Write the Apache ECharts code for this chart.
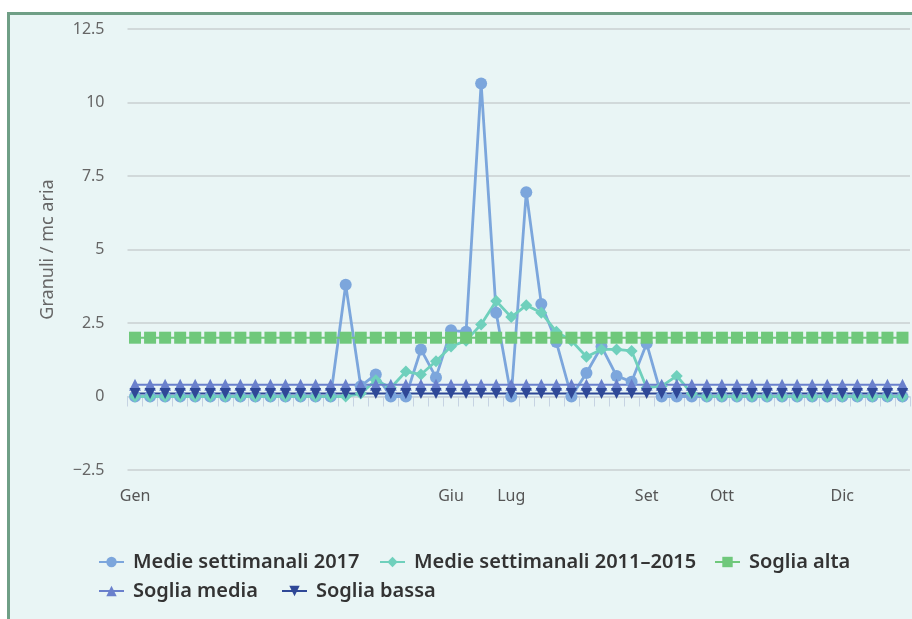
<!DOCTYPE html>
<html>
<head>
<meta charset="utf-8">
<script src="https://cdn.jsdelivr.net/npm/echarts@6/dist/echarts.min.js"></script>
<style>
  html, body { margin: 0; padding: 0; background: #ffffff; }
  #frame {
    position: absolute; left: 7px; top: 12px; width: 920px; height: 620px;
    border-left: 3px solid #6f9f86; border-top: 3px solid #6f9f86;
    background: #e9f5f5;
  }
  #chart { position: absolute; left: 0; top: 0; width: 912px; height: 619px; }
</style>
</head>
<body>
<div id="frame"></div>
<div id="chart"></div>
<script>
// Settimane dell'anno (52) e etichette dei mesi sull'asse X
const weeks = Array.from({ length: 52 }, (_, i) => String(i + 1));
const monthLabels = {
  0: 'Gen', 21: 'Giu', 25: 'Lug', 34: 'Set', 39: 'Ott', 47: 'Dic'
};
const yTicks = [-2.5, 0, 2.5, 5, 7.5, 10, 12.5];

// Medie settimanali 2017 (granuli / mc aria)
const medie2017 = [
  0, 0, 0, 0, 0, 0, 0, 0, 0, 0, 0, 0, 0, 0,
  3.8, 0.35, 0.75, 0, 0, 1.6, 0.65, 2.25, 2.2, 10.65,
  2.85, 0, 6.95, 3.15, 1.85, 0, 0.8, 1.7, 0.7, 0.5,
  1.8, 0, 0,
  0, 0, 0, 0, 0, 0, 0, 0, 0, 0, 0, 0, 0, 0, 0
];

// Medie settimanali 2011–2015
const medie2011_2015 = [
  0, 0, 0, 0, 0, 0, 0, 0, 0, 0, 0, 0, 0, 0,
  0, 0.1, 0.55, 0.3, 0.85, 0.75, 1.2, 1.7, 1.9, 2.45,
  3.25, 2.7, 3.1, 2.85, 2.2, 1.9, 1.35, 1.6, 1.6, 1.55,
  0.3, 0.35, 0.7,
  0.1, 0, 0, 0, 0, 0, 0, 0, 0, 0, 0, 0, 0, 0, 0
];

// Soglie di concentrazione
const sogliaAlta = weeks.map(() => 2);
const sogliaMedia = weeks.map(() => 0.4);
const sogliaBassa = weeks.map(() => 0.1);

const seriesNames = [
  'Medie settimanali 2017',
  'Medie settimanali 2011\u20132015',
  'Soglia alta',
  'Soglia media',
  'Soglia bassa'
];

const FONT = '"Noto Sans", sans-serif';

const chart = echarts.init(document.getElementById('chart'), null, { renderer: 'canvas' });

function lineSeries(name, data, color, symbol, size, width) {
  return {
    name, type: 'line', data,
    symbol, symbolSize: size, showSymbol: true,
    lineStyle: { color, width },
    itemStyle: { color },
    emphasis: { disabled: true },
    animation: false
  };
}

const legendText = { fontFamily: FONT, fontSize: 20, fontWeight: 600, color: '#333333', padding: [0, 0, 0, 4] };

// Una voce di legenda per componente, su due righe
const legendSlots = [
  { left: 93, top: 547 },
  { left: 374, top: 547 },
  { left: 709, top: 547 },
  { left: 93, top: 576 },
  { left: 276, top: 576 }
];

chart.setOption({
  backgroundColor: 'transparent',
  textStyle: { fontFamily: FONT },
  grid: { left: 127.5, right: 2, top: 29, bottom: 149, containLabel: false },
  xAxis: {
    type: 'category',
    data: weeks,
    boundaryGap: true,
    axisLine: { lineStyle: { color: '#c6d3e2', width: 1 } },
    axisTick: { show: true, interval: 0, length: 10, lineStyle: { color: '#c6d3e2' } },
    axisLabel: {
      interval: 0, margin: 18,
      color: '#555555', fontSize: 16, fontFamily: FONT,
      formatter: (v, i) => monthLabels[i] || ''
    },
    splitLine: { show: false }
  },
  yAxis: {
    type: 'value',
    min: yTicks[0], max: yTicks[yTicks.length - 1], interval: 2.5,
    name: 'Granuli / mc aria',
    nameLocation: 'middle', nameGap: 71,
    nameTextStyle: { color: '#666666', fontSize: 18, fontFamily: FONT },
    axisLine: { show: false },
    axisTick: { show: false },
    axisLabel: {
      margin: 23, color: '#666666', fontSize: 16, fontFamily: FONT,
      formatter: v => String(v).replace('-', '\u2212')
    },
    splitLine: { lineStyle: { color: '#c9cfd1', width: 1.5 } }
  },
  legend: seriesNames.map((n, i) => ({
    data: [n],
    left: legendSlots[i].left, top: legendSlots[i].top,
    itemWidth: 25, itemHeight: 13,
    textStyle: legendText
  })),
  series: [
    lineSeries(seriesNames[0], medie2017, '#7ca6dc', 'circle', 12, 2.8),
    lineSeries(seriesNames[1], medie2011_2015, '#6fd0bc', 'diamond', 12, 2.8),
    lineSeries(seriesNames[2], sogliaAlta, '#6fc87b', 'rect', 12, 2),
    lineSeries(seriesNames[3], sogliaMedia, '#6a80cc', 'triangle', 12, 2),
    lineSeries(seriesNames[4], sogliaBassa, '#2f4897', 'path://M0,0 L10,0 L5,10 Z', 11, 2)
  ]
});
</script>
</body>
</html>
